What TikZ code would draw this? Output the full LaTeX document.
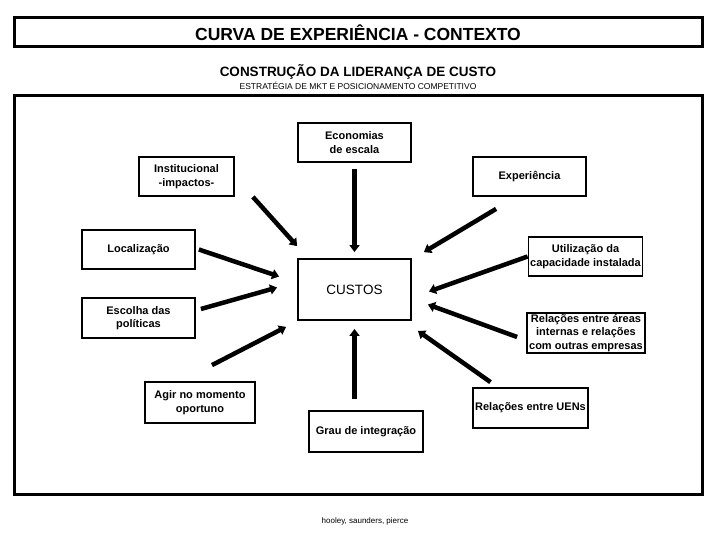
\documentclass[tikz,border=0pt]{standalone}
\usepackage{fontspec}
\setmainfont{Liberation Sans}
\usetikzlibrary{arrows.meta,positioning}
\tikzset{
  frame/.style={draw,line width=3pt},
  box/.style={draw,line width=1.8pt,align=center,font=\fontsize{11}{13.5}\selectfont\bfseries,inner sep=1pt},
  arr/.style={-{Triangle[length=7pt,width=10pt]},line width=4.5pt},
}

\begin{document}
\begin{tikzpicture}[x=1pt,y=-1pt]
\useasboundingbox (0,0) rectangle (720,540);
% header
\node[frame,minimum width=688pt,minimum height=29pt,font=\fontsize{17.5}{20}\selectfont\bfseries] (title) at (358,32.5) {CURVA DE EXPERIÊNCIA - CONTEXTO};
\node[font=\fontsize{13.5}{15}\selectfont\bfseries] (subtitle) at (358,72) {CONSTRUÇÃO DA LIDERANÇA DE CUSTO};
\node[font=\fontsize{8.5}{10}\selectfont] (subsub) at (358,86) {ESTRATÉGIA DE MKT E POSICIONAMENTO COMPETITIVO};
\draw[frame] (14,96) rectangle (702,494);
% factors
\node[box,minimum width=113pt,minimum height=39pt] (econ) at (354.5,142.5) {Economias\\de escala};
\node[box,minimum width=95pt,minimum height=39pt] (inst) at (186.5,176.5) {Institucional\\-impactos-};
\node[box,minimum width=113pt,minimum height=39pt] (exp) at (529.5,176.5) {Experiência};
\node[box,minimum width=113pt,minimum height=39pt] (loc) at (138.5,249.5) {Localização};
\node[box,minimum width=114pt,minimum height=39pt] (util) at (585.5,256.5) {Utilização da\\capacidade instalada};
\node[draw,line width=1.8pt,minimum width=113pt,minimum height=61pt,font=\fontsize{13.5}{15}\selectfont] (custos) at (354.5,289.5) {CUSTOS};
\node[box,minimum width=113pt,minimum height=40pt] (esc) at (138.5,318) {Escolha das\\políticas};
\node[box,minimum width=118pt,minimum height=38pt] (rel) at (586,333) {Relações entre áreas\\internas e relações\\com outras empresas};
\node[box,minimum width=110pt,minimum height=41pt] (agir) at (200,402.5) {Agir no momento\\oportuno};
\node[box,minimum width=115pt,minimum height=40pt] (uens) at (530.5,408) {Relações entre UENs};
\node[box,minimum width=114pt,minimum height=41pt] (grau) at (366,431.5) {Grau de integração};
\node[font=\fontsize{8}{9}\selectfont] (fonte) at (365,521) {hooley, saunders, pierce};
% arrows
\draw[arr,shorten <=6pt,shorten >=6pt] (econ.south) -- (custos.north);
\draw[arr] ([xshift=18pt]inst.south east) -- ([yshift=12pt]custos.north west);
\draw[arr] ([xshift=24pt,yshift=-12pt]exp.south west) -- ([xshift=12pt,yshift=6pt]custos.north east);
\draw[arr] ([xshift=3pt]loc.east) -- ([xshift=-18pt,yshift=13pt]custos.west);
\draw[arr] ([xshift=5pt,yshift=9pt]esc.east) -- ([xshift=-20pt,yshift=2pt]custos.west);
\draw[arr] ([xshift=12pt,yshift=16pt]agir.north) -- ([xshift=-11pt,yshift=-6pt]custos.south west);
\draw[arr,shorten <=11pt,shorten >=8pt] (grau.north -| custos.south) -- (custos.south);
\draw[arr] ([xshift=-40pt,yshift=5pt]uens.north) -- ([xshift=6pt,yshift=-10pt]custos.south east);
\draw[arr] ([xshift=-9pt,yshift=-4pt]rel.west) -- ([xshift=16pt,yshift=-15pt]custos.east);
\draw[arr] (util.west) -- ([xshift=17pt,yshift=-2pt]custos.east);
\end{tikzpicture}
\end{document}
